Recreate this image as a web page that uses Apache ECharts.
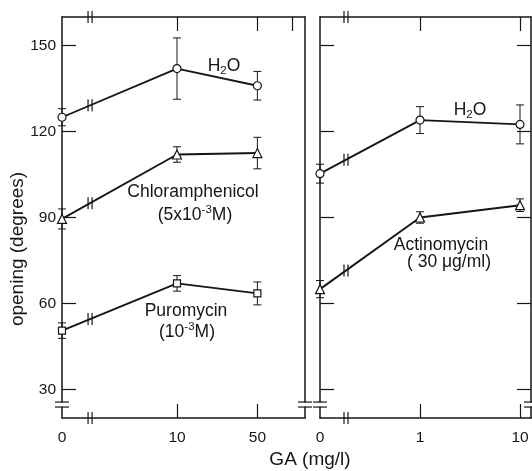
<!DOCTYPE html>
<html><head><meta charset="utf-8">
<script src="https://cdn.jsdelivr.net/npm/echarts@6/dist/echarts.min.js"></script>
<style>html,body{margin:0;padding:0;background:#fff}#c{width:532px;height:471px}</style>
</head><body><div id="c"></div><script>
// ---- data (GA in mg/l, opening in degrees) ----
const leftGA = [0, 10, 50];
const leftTickGA = [10, 50, 100];
const leftXLabels = ['0', '10', '50'];
const rightGA = [0, 1, 10];
const rightTickGA = [1, 10];
const rightXLabels = ['0', '1', '10'];
const yTicks = [30, 60, 90, 120, 150];

const h2oLeft = [125, 142, 136];
const h2oLeftErr = [3, 10.7, 5];
const chloramphenicol = [89.5, 112, 112.5];
const chloramphenicolErr = [3.5, 2.7, 5.5];
const puromycin = [50.5, 67, 63.5];
const puromycinErr = [2.7, 2.7, 4];
const h2oRight = [105.3, 124, 122.5];
const h2oRightErr = [3.3, 4.7, 6.8];
const actinomycin = [65, 90, 94.3];
const actinomycinErr = [3, 2, 2.2];

// log10 scale, with GA = 0 placed at the broken origin of each panel
const leftZero = 0, rightZero = -1;
const posL = g => g === 0 ? leftZero : Math.log10(g);
const posR = g => g === 0 ? rightZero : Math.log10(g);

const INK = '#161616';
const FONT = 'Liberation Sans';

const chart = echarts.init(document.getElementById('c'), null, {renderer: 'canvas'});

function xAxis(grid, position, min, max, ticks, labels, labelText) {
  return {
    type: 'value', gridIndex: grid, position, min, max,
    axisLine: {show: true, onZero: false, lineStyle: {color: INK, width: 1.5}},
    axisTick: {show: ticks.length > 0, inside: true, length: 14, customValues: ticks, lineStyle: {color: INK, width: 1.2}},
    axisLabel: labels ? {
      show: true, customValues: labels, margin: 12, color: INK, fontFamily: FONT, fontSize: 15.5,
      formatter: v => labelText[labels.indexOf(labels.find(l => Math.abs(l - v) < 1e-6))] || ''
    } : {show: false},
    splitLine: {show: false}
  };
}
function yAxis(grid, position, ticks, labels) {
  return {
    type: 'value', gridIndex: grid, position, min: 20, max: 160,
    axisLine: {show: true, onZero: false, lineStyle: {color: INK, width: 1.5}},
    axisTick: {show: ticks, inside: true, length: 14, customValues: yTicks, lineStyle: {color: INK, width: 1.2}},
    axisLabel: labels ? {show: true, customValues: yTicks, margin: 6, color: INK, fontFamily: FONT, fontSize: 15.5} : {show: false},
    splitLine: {show: false}
  };
}

const leftMax = 243 / 115, rightMax = -1 + 211 / 100;

function lineSeries(name, xi, yi, pos, ga, vals, symbol, size) {
  return {
    type: 'line', name, xAxisIndex: xi, yAxisIndex: yi,
    data: ga.map((g, i) => [pos(g), vals[i]]),
    symbol, symbolSize: size, showSymbol: true, animation: false, silent: true, z: 4,
    lineStyle: {color: INK, width: 1.9},
    itemStyle: {color: '#fff', borderColor: INK, borderWidth: 1.2}
  };
}
function errSeries(xi, yi, pos, ga, vals, errs) {
  return {
    type: 'custom', xAxisIndex: xi, yAxisIndex: yi, animation: false, silent: true, z: 3,
    data: ga.map((g, i) => [pos(g), vals[i], errs[i]]),
    renderItem: (params, api) => {
      const x = api.value(0), y = api.value(1), e = api.value(2);
      const t = api.coord([x, y + e]), b = api.coord([x, y - e]);
      const w = 4, st = {stroke: INK, lineWidth: 1};
      return {type: 'group', children: [
        {type: 'line', shape: {x1: t[0], y1: t[1], x2: b[0], y2: b[1]}, style: st},
        {type: 'line', shape: {x1: t[0] - w, y1: t[1], x2: t[0] + w, y2: t[1]}, style: st},
        {type: 'line', shape: {x1: b[0] - w, y1: b[1], x2: b[0] + w, y2: b[1]}, style: st}
      ]};
    }
  };
}

const option = {
  backgroundColor: '#fff',
  animation: false,
  grid: [
    {left: 62, top: 17, width: 243, height: 401},
    {left: 320, top: 17, width: 211, height: 401}
  ],
  xAxis: [
    xAxis(0, 'bottom', 0, leftMax, leftGA.slice(1, 3).map(posL), leftGA.map(posL), leftXLabels),
    xAxis(0, 'top', 0, leftMax, leftTickGA.map(posL), null),
    xAxis(1, 'bottom', rightZero, rightMax, rightTickGA.map(posR), rightGA.map(posR), rightXLabels),
    xAxis(1, 'top', rightZero, rightMax, rightTickGA.map(posR), null)
  ],
  yAxis: [
    yAxis(0, 'left', true, true),
    yAxis(0, 'right', false, false),
    yAxis(1, 'left', true, false),
    yAxis(1, 'right', true, false)
  ],
  series: [
    errSeries(0, 0, posL, leftGA, h2oLeft, h2oLeftErr),
    errSeries(0, 0, posL, leftGA, chloramphenicol, chloramphenicolErr),
    errSeries(0, 0, posL, leftGA, puromycin, puromycinErr),
    errSeries(2, 2, posR, rightGA, h2oRight, h2oRightErr),
    errSeries(2, 2, posR, rightGA, actinomycin, actinomycinErr),
    lineSeries('H2O', 0, 0, posL, leftGA, h2oLeft, 'circle', 8),
    lineSeries('Chloramphenicol', 0, 0, posL, leftGA, chloramphenicol, 'triangle', 9),
    lineSeries('Puromycin', 0, 0, posL, leftGA, puromycin, 'rect', 7),
    lineSeries('H2O (right)', 2, 2, posR, rightGA, h2oRight, 'circle', 8),
    lineSeries('Actinomycin', 2, 2, posR, rightGA, actinomycin, 'triangle', 9)
  ]
};
chart.setOption(option);

// ---- decorations: axis-break marks, annotations, axis titles ----
const g = [];
const st = {stroke: INK, lineWidth: 1.2};
function vBreak(x, y) {
  g.push({type: 'line', shape: {x1: x - 2, y1: y - 6, x2: x - 2, y2: y + 6}, style: st, z: 10});
  g.push({type: 'line', shape: {x1: x + 2, y1: y - 6, x2: x + 2, y2: y + 6}, style: st, z: 10});
}
function hBreak(x, y) {
  g.push({type: 'rect', shape: {x: x - 3, y: y - 2, width: 6, height: 4}, style: {fill: '#fff'}, z: 9});
  g.push({type: 'line', shape: {x1: x - 7, y1: y - 2.5, x2: x + 7, y2: y - 2.5}, style: st, z: 10});
  g.push({type: 'line', shape: {x1: x - 7, y1: y + 2.5, x2: x + 7, y2: y + 2.5}, style: st, z: 10});
}
const leftBreak = 0.244, rightBreak = -0.74, yBreak = 24.7;
const L = v => chart.convertToPixel({xAxisIndex: 0, yAxisIndex: 0}, v);
const R = v => chart.convertToPixel({xAxisIndex: 2, yAxisIndex: 2}, v);
// x-axis breaks (bottom / top) and y-axis breaks near the bottom
[[L, leftBreak, 0, leftMax], [R, rightBreak, rightZero, rightMax]].forEach(([f, bx, mn, mx]) => {
  vBreak(f([bx, 20])[0], f([bx, 20])[1]);
  vBreak(f([bx, 160])[0], f([bx, 160])[1]);
  hBreak(f([mn, yBreak])[0], f([mn, yBreak])[1]);
  hBreak(f([mx, yBreak])[0], f([mx, yBreak])[1]);
});
// breaks on the first segment of each curve
function lineBreak(f, pos, ga, vals, bx) {
  const a = f([pos(ga[0]), vals[0]]), b = f([pos(ga[1]), vals[1]]);
  const x = f([bx, 20])[0];
  const t = (x - a[0]) / (b[0] - a[0]);
  vBreak(x, a[1] + t * (b[1] - a[1]));
}
lineBreak(L, posL, leftGA, h2oLeft, leftBreak);
lineBreak(L, posL, leftGA, chloramphenicol, leftBreak);
lineBreak(L, posL, leftGA, puromycin, leftBreak);
lineBreak(R, posR, rightGA, h2oRight, rightBreak);
lineBreak(R, posR, rightGA, actinomycin, rightBreak);

const rich = {
  n: {fontSize: 17.5, fontFamily: FONT, color: INK, lineHeight: 22, verticalAlign: 'middle'},
  sub: {fontSize: 11.5, fontFamily: FONT, color: INK, lineHeight: 13, verticalAlign: 'bottom'},
  sup: {fontSize: 11.5, fontFamily: FONT, color: INK, lineHeight: 13, verticalAlign: 'top'}
};
function label(x, y, text) {
  g.push({type: 'text', x, y, z: 12, style: {text, rich, font: '17.5px ' + FONT, fill: INK, align: 'center', verticalAlign: 'middle'}});
}
label(224, 66, '{n|H}{sub|2}{n|O}');
label(193, 192, '{n|Chloramphenicol}');
label(195, 215, '{n|(5x10}{sup|-3}{n|M)}');
label(186, 311, '{n|Puromycin}');
label(187, 332, '{n|(10}{sup|-3}{n|M)}');
label(470, 110, '{n|H}{sub|2}{n|O}');
label(441, 245, '{n|Actinomycin}');
label(449, 262, '{n|( 30 μg/ml)}');

g.push({type: 'text', x: 18, y: 249, rotation: Math.PI / 2, z: 12,
  style: {text: 'opening (degrees)', font: '19px ' + FONT, fill: INK, align: 'center', verticalAlign: 'middle'}});
g.push({type: 'text', x: 310, y: 460, z: 12,
  style: {text: 'GA (mg/l)', font: '19px ' + FONT, fill: INK, align: 'center', verticalAlign: 'middle'}});

chart.setOption({graphic: {elements: g}});
</script></body></html>
